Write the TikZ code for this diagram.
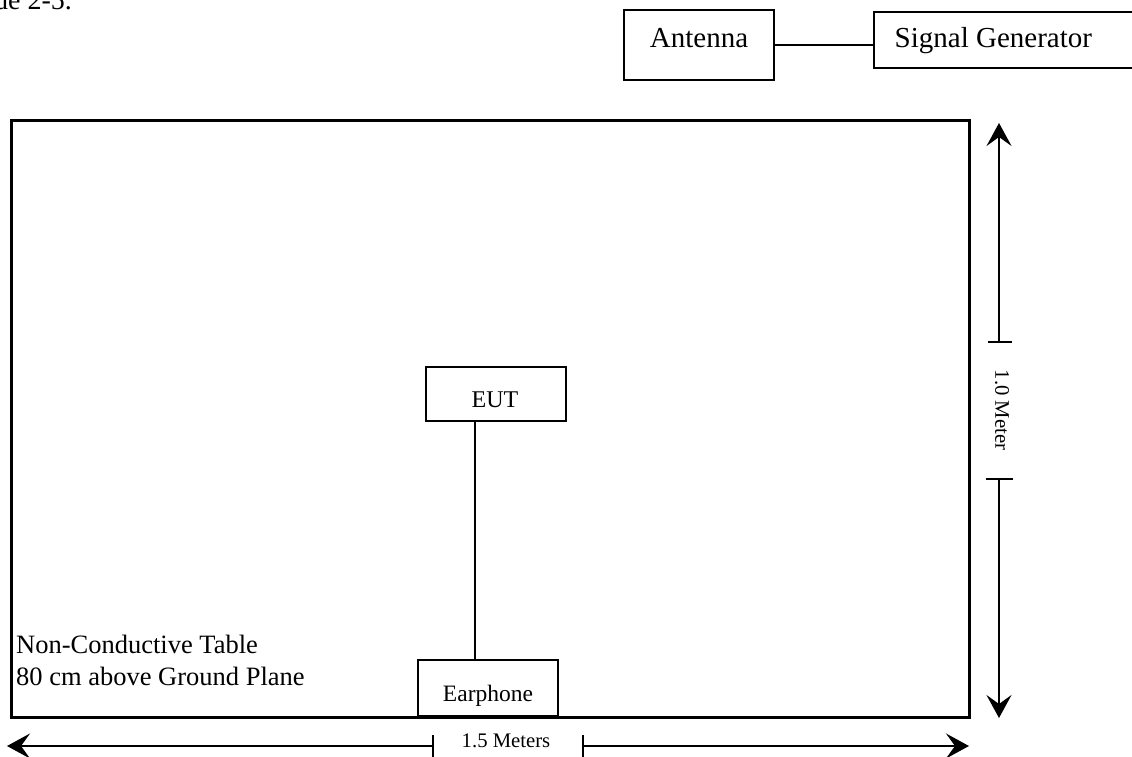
\documentclass[tikz,border=0pt]{standalone}
\usepackage{fontspec}
\setmainfont{Liberation Serif}
\usetikzlibrary{arrows.meta}
\begin{document}
\begin{tikzpicture}[x=1pt,y=-1pt,
  box/.style={draw,line width=1.5pt,inner sep=0pt},
  table/.style={draw,line width=3.2pt},
  wire/.style={line width=1.5pt},
  dimline/.style={line width=1.8pt},
  tipped/.style={dimline,-{Stealth[length=23pt,width=25pt,inset=9pt]}},
  lbl/.style={inner sep=0pt,anchor=base},
  bigfont/.style={font=\fontsize{29}{34}\selectfont},
  midfont/.style={font=\fontsize{26.5}{32}\selectfont},
  smallfont/.style={font=\fontsize{23.5}{28}\selectfont},
  dimfont/.style={font=\fontsize{20.7}{24}\selectfont}]
\useasboundingbox (0,0) rectangle (1132,757);
% clipped caption fragment (cut at the page edge as in the reference)
\node[lbl,anchor=base west,font=\fontsize{28}{32}\selectfont] (cap) at (-6,10) {de 2-5.};
% top boxes
\node[box,minimum width=150pt,minimum height=70pt] (ant) at (699,45) {};
\node[lbl,bigfont] (antt) at (699,47.5) {Antenna};
\node[box,anchor=west,minimum width=300pt,minimum height=56pt] (sg) at (873,40) {};
\node[lbl,anchor=base west,bigfont] (sgt) at (894.5,47.5) {Signal Generator};
\draw[wire] (ant.east) -- (ant.east -| sg.west);
% table
\node[table,minimum width=958pt,minimum height=597pt,inner sep=0pt,anchor=north west] (tbl) at (10,119) {};
\node[lbl,anchor=base west,midfont] (tbl1) at (16,653) {Non-Conductive Table};
\node[lbl,anchor=base west,midfont] (tbl2) at (16,685) {80 cm above Ground Plane};
% EUT and earphone
\node[box,minimum width=140pt,minimum height=54pt] (eut) at (496,394) {};
\node[lbl,font=\fontsize{24}{28}\selectfont] (eutt) at (495,407) {EUT};
\node[box,minimum width=140pt,minimum height=56pt] (ear) at (488,688) {};
\node[lbl,smallfont] (eart) at (488,701) {Earphone};
\path (475,0) coordinate (wx);
\draw[wire] (eut.south -| wx) -- (ear.north -| wx);
% vertical dimension
\coordinate (vtop) at (999,123);
\coordinate (vb1) at (999,342);
\coordinate (vb2) at (999,479);
\coordinate (vbot) at (999,718);
\draw[tipped] (vb1) -- (vtop);
\draw[tipped] (vb2) -- (vbot);
\draw[dimline] ([xshift=-11pt]vb1) -- ([xshift=13pt]vb1);
\draw[dimline] ([xshift=-13pt]vb2) -- ([xshift=14pt]vb2);
\node[inner sep=0pt,rotate=-90,dimfont] (vlab) at (1002,410) {1.0 Meter};
% horizontal dimension
\coordinate (hl) at (7,746);
\coordinate (hb1) at (433,746);
\coordinate (hb2) at (583,746);
\coordinate (hr) at (969,746);
\draw[tipped] (hb1) -- (hl);
\draw[tipped] (hb2) -- (hr);
\draw[dimline] ([yshift=-11pt]hb1) -- ([yshift=11pt]hb1);
\draw[dimline] ([yshift=-11pt]hb2) -- ([yshift=11pt]hb2);
\node[lbl,dimfont] (hlab) at (506,747.5) {1.5 Meters};
\end{tikzpicture}
\end{document}
